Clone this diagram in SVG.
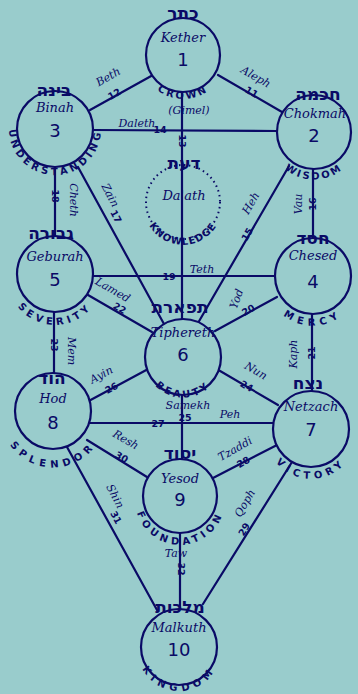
<svg xmlns="http://www.w3.org/2000/svg" width="358" height="694" viewBox="0 0 358 694">
<style>
.ln{stroke:#0a0a66;stroke-width:2.2;fill:none;stroke-linecap:round}
.nd{stroke:#0a0a66;stroke-width:2.2;fill:#99cccc}
.dt{stroke:#0a0a66;stroke-width:2;fill:none;stroke-dasharray:1.5 3.5}
.nm{font-family:"DejaVu Serif",serif;font-style:italic;font-size:13px;fill:#0a0a66;text-anchor:middle}
.num{font-family:"DejaVu Sans",sans-serif;font-size:18px;fill:#0a0a66;text-anchor:middle}
.he{font-family:"DejaVu Sans",sans-serif;font-weight:bold;font-size:17px;fill:#0a0a66;text-anchor:middle}
.cv{font-family:"DejaVu Sans",sans-serif;font-weight:bold;font-size:10px;fill:#0a0a66}
.pl{font-family:"DejaVu Serif",serif;font-style:italic;font-size:11px;fill:#0a0a66;text-anchor:middle}
.pn{font-family:"DejaVu Sans",sans-serif;font-weight:bold;font-size:9.5px;fill:#0a0a66;text-anchor:middle}
</style>
<defs>
<path id="aK" d="M139.7,62.6 A44,44 0 0 0 226.3,62.6"/>
<path id="aB" d="M11.8,113.3 A46,46 0 1 0 98.2,113.3"/>
<path id="aC" d="M269.2,138.8 A45,45 0 0 0 358.8,138.8"/>
<path id="aD" d="M144.1,208.6 A39,39 0 0 0 221.9,208.6"/>
<path id="aG" d="M8.2,282.2 A47,47 0 0 0 101.8,282.2"/>
<path id="aCh" d="M267.2,284 A46,46 0 0 0 358.8,284"/>
<path id="aT" d="M145.2,363.6 A38,38 0 0 0 220.8,363.6"/>
<path id="aH" d="M1.2,420 A52,52 0 0 0 104.8,420"/>
<path id="aN" d="M265.2,437 A46,46 0 0 0 356.8,437"/>
<path id="aY" d="M135.2,504 A45,45 0 0 0 224.8,504"/>
<path id="aM" d="M138.2,654.1 A41,41 0 0 0 219.8,654.1"/>
</defs>
<rect width="358" height="694" fill="#99cccc"/>
<g id="connectors">
<line class="ln" x1="218" y1="75" x2="282" y2="112"/>
<line class="ln" x1="153" y1="75" x2="90" y2="110"/>
<line class="ln" x1="93" y1="130" x2="277" y2="131"/>
<line class="ln" x1="182" y1="92" x2="182" y2="320"/>
<line class="ln" x1="289" y1="166" x2="198" y2="323"/>
<line class="ln" x1="313" y1="168" x2="313" y2="238"/>
<line class="ln" x1="78" y1="167" x2="164" y2="324"/>
<line class="ln" x1="55" y1="167" x2="55" y2="236"/>
<line class="ln" x1="93" y1="276" x2="275" y2="276"/>
<line class="ln" x1="277" y1="297" x2="215" y2="331"/>
<line class="ln" x1="312" y1="314" x2="312" y2="391"/>
<line class="ln" x1="88" y1="295" x2="152" y2="332"/>
<line class="ln" x1="54" y1="312" x2="54" y2="373"/>
<line class="ln" x1="85" y1="403" x2="150" y2="368"/>
<line class="ln" x1="215" y1="368" x2="278" y2="405"/>
<line class="ln" x1="182" y1="395" x2="182" y2="459"/>
<line class="ln" x1="90" y1="423" x2="273" y2="423"/>
<line class="ln" x1="87" y1="440" x2="147" y2="477"/>
<line class="ln" x1="277" y1="445" x2="213" y2="478"/>
<line class="ln" x1="67" y1="447" x2="157" y2="610"/>
<line class="ln" x1="292" y1="462" x2="203" y2="604"/>
<line class="ln" x1="180" y1="533" x2="180" y2="609"/>
</g>
<g id="path-labels">
<text class="pl" transform="translate(110,80) rotate(-30)">Beth</text>
<text class="pn" transform="translate(116,97) rotate(-30)">12</text>
<text class="pl" transform="translate(254,80) rotate(30)">Aleph</text>
<text class="pn" transform="translate(250,95) rotate(30)">11</text>
<text class="pl" x="137" y="127">Daleth</text>
<text class="pn" x="160" y="133">14</text>
<text class="pl" x="189" y="114">(Gimel)</text>
<text class="pn" transform="translate(179,141) rotate(90)">13</text>
<text class="pl" transform="translate(107,197) rotate(62)">Zain</text>
<text class="pn" transform="translate(113,218) rotate(62)">17</text>
<text class="pl" transform="translate(70,200) rotate(90)">Cheth</text>
<text class="pn" transform="translate(52,196) rotate(90)">18</text>
<text class="pl" transform="translate(254,205) rotate(-60)">Heh</text>
<text class="pn" transform="translate(250,236) rotate(-60)">15</text>
<text class="pl" transform="translate(302,204) rotate(-90)">Vau</text>
<text class="pn" transform="translate(316,204) rotate(-90)">16</text>
<text class="pl" x="202" y="273">Teth</text>
<text class="pn" x="169" y="280">19</text>
<text class="pl" transform="translate(111,293) rotate(30)">Lamed</text>
<text class="pn" transform="translate(118,311) rotate(30)">22</text>
<text class="pl" transform="translate(240,300) rotate(-70)">Yod</text>
<text class="pn" transform="translate(250,313) rotate(-30)">20</text>
<text class="pl" transform="translate(297,354) rotate(-90)">Kaph</text>
<text class="pn" transform="translate(315,353) rotate(-90)">21</text>
<text class="pl" transform="translate(68,351) rotate(90)">Mem</text>
<text class="pn" transform="translate(51,345) rotate(90)">23</text>
<text class="pl" transform="translate(103,378) rotate(-28)">Ayin</text>
<text class="pn" transform="translate(113,391) rotate(-28)">26</text>
<text class="pl" transform="translate(254,374) rotate(30)">Nun</text>
<text class="pn" transform="translate(245,389) rotate(30)">24</text>
<text class="pl" x="188" y="409" font-size="10">Samekh</text>
<text class="pn" x="185" y="421">25</text>
<text class="pl" x="230" y="418">Peh</text>
<text class="pn" x="158" y="427">27</text>
<text class="pl" transform="translate(124,443) rotate(30)">Resh</text>
<text class="pn" transform="translate(120,460) rotate(30)">30</text>
<text class="pl" transform="translate(237,452) rotate(-30)">Tzaddi</text>
<text class="pn" transform="translate(245,465) rotate(-30)">28</text>
<text class="pl" transform="translate(112,498) rotate(62)">Shin</text>
<text class="pn" transform="translate(113,519) rotate(62)">31</text>
<text class="pl" transform="translate(248,505) rotate(-60)">Qoph</text>
<text class="pn" transform="translate(247,531) rotate(-60)">29</text>
<text class="pl" x="176" y="557">Taw</text>
<text class="pn" transform="translate(178,569) rotate(90)">32</text>
</g>
<g id="kether">
<circle class="nd" cx="183" cy="55" r="37"/>
<text class="he" x="183" y="19">כתר</text>
<text class="nm" x="183" y="42">Kether</text>
<text class="num" x="183" y="66">1</text>
<text class="cv" letter-spacing="2.5"><textPath href="#aK" startOffset="50%" text-anchor="middle">CROWN</textPath></text>
</g>
<g id="chokmah">
<circle class="nd" cx="314" cy="132" r="37"/>
<text class="he" x="318" y="100">חכמה</text>
<text class="nm" x="315" y="118">Chokmah</text>
<text class="num" x="314" y="142">2</text>
<text class="cv" letter-spacing="2.5"><textPath href="#aC" startOffset="50%" text-anchor="middle">WISDOM</textPath></text>
</g>
<g id="binah">
<circle class="nd" cx="55" cy="129" r="38"/>
<text class="he" x="54" y="96">בינה</text>
<text class="nm" x="55" y="112">Binah</text>
<text class="num" x="55" y="137">3</text>
<text class="cv" letter-spacing="3.5"><textPath href="#aB" startOffset="50%" text-anchor="middle">UNDERSTANDING</textPath></text>
</g>
<g id="daath">
<circle class="dt" cx="183" cy="202" r="37"/>
<text class="he" x="184" y="169">דעת</text>
<text class="nm" x="184" y="200">Da'ath</text>
<text class="cv" letter-spacing="1"><textPath href="#aD" startOffset="50%" text-anchor="middle">KNOWLEDGE</textPath></text>
</g>
<g id="chesed">
<circle class="nd" cx="313" cy="276" r="38"/>
<text class="he" x="313" y="244">חסד</text>
<text class="nm" x="313" y="260">Chesed</text>
<text class="num" x="313" y="288">4</text>
<text class="cv" letter-spacing="5"><textPath href="#aCh" startOffset="50%" text-anchor="middle">MERCY</textPath></text>
</g>
<g id="geburah">
<circle class="nd" cx="55" cy="274" r="38"/>
<text class="he" x="51" y="239">גבורה</text>
<text class="nm" x="55" y="261">Geburah</text>
<text class="num" x="55" y="286">5</text>
<text class="cv" letter-spacing="4"><textPath href="#aG" startOffset="50%" text-anchor="middle">SEVERITY</textPath></text>
</g>
<g id="tiphereth">
<circle class="nd" cx="183" cy="357" r="38"/>
<text class="he" x="180" y="313">תפארת</text>
<text class="nm" x="183" y="337">Tiphereth</text>
<text class="num" x="183" y="361">6</text>
<text class="cv" letter-spacing="3"><textPath href="#aT" startOffset="50%" text-anchor="middle">BEAUTY</textPath></text>
</g>
<g id="netzach">
<circle class="nd" cx="311" cy="429" r="38"/>
<text class="he" x="308" y="389">נצח</text>
<text class="nm" x="311" y="411">Netzach</text>
<text class="num" x="311" y="436">7</text>
<text class="cv" letter-spacing="4.5"><textPath href="#aN" startOffset="50%" text-anchor="middle">VICTORY</textPath></text>
</g>
<g id="hod">
<circle class="nd" cx="53" cy="411" r="38"/>
<text class="he" x="52" y="384">הוד</text>
<text class="nm" x="53" y="403">Hod</text>
<text class="num" x="53" y="429">8</text>
<text class="cv" font-size="11" letter-spacing="5"><textPath href="#aH" startOffset="50%" text-anchor="middle">SPLENDOR</textPath></text>
</g>
<g id="yesod">
<circle class="nd" cx="180" cy="496" r="37"/>
<text class="he" x="180" y="459">יסוד</text>
<text class="nm" x="180" y="483">Yesod</text>
<text class="num" x="180" y="506">9</text>
<text class="cv" letter-spacing="4"><textPath href="#aY" startOffset="50%" text-anchor="middle">FOUNDATION</textPath></text>
</g>
<g id="malkuth">
<circle class="nd" cx="179" cy="647" r="38"/>
<text class="he" x="180" y="613">מלכות</text>
<text class="nm" x="179" y="632">Malkuth</text>
<text class="num" x="179" y="656">10</text>
<text class="cv" letter-spacing="5"><textPath href="#aM" startOffset="50%" text-anchor="middle">KINGDOM</textPath></text>
</g>
</svg>
